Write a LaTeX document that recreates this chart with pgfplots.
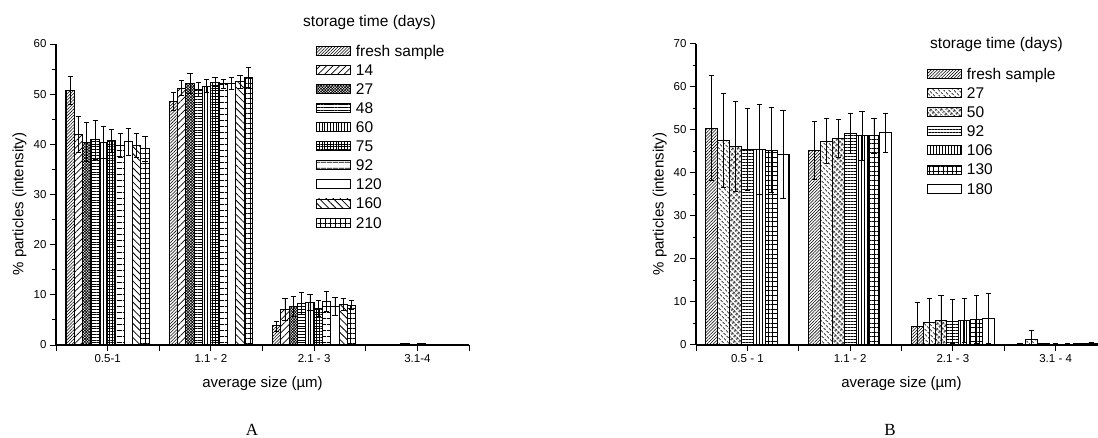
\documentclass[border=0pt]{standalone}
\usepackage{fontspec}
\setmainfont{Liberation Sans}
\newfontfamily\capfont{Liberation Serif}
\usepackage{pgfplots}
\usepackage{pgfplotstable}
\pgfplotsset{compat=1.18}
\usetikzlibrary{patterns.meta}

\pgfplotstableread{
x s1 e1 s2 e2 s3 e3 s4 e4 s5 e5 s6 e6 s7 e7 s8 e8 s9 e9 s10 e10
0 50.8 2.8 41.9 3.6 40.4 3.9 40.9 3.9 40.3 3.2 40.7 2.3 39.7 2.4 40.5 2.7 39.7 2.4 39.1 2.5
1 48.6 1.8 51.2 1.5 52.1 2.0 51.0 1.4 51.6 1.3 52.4 0.9 52.1 0.9 52.2 1.2 52.5 1.3 53.4 2.0
2 3.8 1.0 7.1 2.1 7.7 1.9 8.3 2.2 8.5 1.6 7.3 1.5 8.6 2.0 7.7 1.8 8.0 1.2 7.9 0.9
3 0.1 0.05 0.1 0.05 0.1 0.05 0.2 0.05 0.1 0.05 0.2 0.05 0.1 0.05 0.1 0.05 0.1 0.05 0.1 0.05
}\dataA

\pgfplotstableread{
x s1 e1 s2 e2 s3 e3 s4 e4 s5 e5 s6 e6 s7 e7
0 50.4 12.2 47.6 11.0 46.2 10.4 45.5 9.6 45.5 10.4 45.3 9.9 44.3 10.2
1 45.2 6.8 47.4 5.2 48.0 4.4 49.2 4.6 48.7 5.7 48.7 4.1 49.4 4.5
2 4.4 5.5 5.2 5.7 5.7 5.9 5.4 5.1 5.7 5.1 6.0 5.6 6.2 5.8
3 0.2 0.1 1.3 2.0 0.3 0.1 0.2 0.1 0.2 0.1 0.3 0.1 0.4 0.1
}\dataB

\pgfplotsset{
  myaxis/.style={
    scale only axis, width=411bp, height=301bp,
    axis lines*=left, axis line style={-, line width=1.1bp},
    tick align=outside, major tick length=6bp, minor tick length=3.5bp,
    every tick/.style={line width=1bp, black},
    ymin=0, xmin=-0.5, xmax=3.5,
    ybar=0pt,
    xtick={-0.5,0,0.5,1,1.5,2,2.5,3,3.5},
    minor y tick num=1,
    /pgf/number format/assume math mode=true,
    tick label style={font=\fontsize{11.5bp}{13bp}\selectfont},
    label style={font=\fontsize{15bp}{18bp}\selectfont},
    xlabel={average size (µm)},
    ylabel={\% particles (intensity)},
    xlabel style={at={(axis description cs:0.5,-0.1296)}, anchor=center},
    ylabel style={at={(axis description cs:-0.0884,0.468)}, anchor=center},
    legend cell align=left,
    legend image code/.code={\draw[##1, line width=0.9bp] (0bp,-4.5bp) rectangle (34bp,4.5bp);},
    legend style={draw=none, fill=none, anchor=north west, inner sep=0pt, outer sep=0pt,
      row sep=0pt, font=\fontsize{15.5bp}{18bp}\selectfont,
      nodes={inner sep=0pt, text height=15bp, text depth=4.1bp},
      /tikz/every odd column/.append style={column sep=5bp}},
  },
  eb/.style={draw=black, line width=1.1bp,
    error bars/y dir=both, error bars/y explicit,
    error bars/error bar style={line width=0.8bp, black},
    error bars/error mark options={rotate=90, mark size=2.6bp, line width=0.8bp, black}},
}

\begin{document}
\begin{tikzpicture}
% Panel A
\begin{axis}[myaxis, at={(56bp,93bp)}, anchor=south west, width=413bp,
  ymax=60, ytick={0,10,...,60}, bar width=0.0806,
  xticklabels={,0.5-1,,1.1 - 2,,2.1 - 3,,3.1-4,},
  legend style={at={(axis description cs:0.6295,1.0095)}}]
\addplot[eb, pattern={Lines[angle=45,distance=2.2bp,line width=0.55bp]}] table[x=x,y=s1,y error=e1]{\dataA};
\addplot[eb, pattern={Lines[angle=45,distance=4.6bp,line width=0.7bp]}] table[x=x,y=s2,y error=e2]{\dataA};
\addplot[eb, pattern={Hatch[angle=45,distance=2bp,line width=0.65bp]}] table[x=x,y=s3,y error=e3]{\dataA};
\addplot[eb, pattern={Lines[angle=0,distance=2.8bp,line width=0.7bp]}] table[x=x,y=s4,y error=e4]{\dataA};
\addplot[eb, pattern={Lines[angle=90,distance=2.8bp,line width=0.7bp]}] table[x=x,y=s5,y error=e5]{\dataA};
\addplot[eb, pattern={Hatch[angle=0,distance=2.8bp,line width=0.65bp]}] table[x=x,y=s6,y error=e6]{\dataA};
\addplot[eb, pattern={Lines[angle=0,distance=6bp,line width=0.8bp]}] table[x=x,y=s7,y error=e7]{\dataA};
\addplot[eb, fill=white] table[x=x,y=s8,y error=e8]{\dataA};
\addplot[eb, pattern={Lines[angle=-45,distance=5bp,line width=0.8bp]}] table[x=x,y=s9,y error=e9]{\dataA};
\addplot[eb, pattern={Hatch[angle=0,distance=5bp,line width=0.8bp]}] table[x=x,y=s10,y error=e10]{\dataA};
\legend{fresh sample,14,27,48,60,75,92,120,160,210}
\end{axis}
% Panel B
\begin{axis}[myaxis, at={(696bp,93bp)}, anchor=south west, width=411bp,
  ymax=70, ytick={0,10,...,70}, bar width=0.1157,
  xticklabels={,0.5 - 1,,1.1 - 2,,2.1 - 3,,3.1 - 4,},
  legend style={at={(axis description cs:0.562,0.932)}}]
\addplot[eb, pattern={Lines[angle=45,distance=2.2bp,line width=0.55bp]}] table[x=x,y=s1,y error=e1]{\dataB};
\addplot[eb, pattern={Lines[angle=-45,distance=3.6bp,line width=0.7bp]}] table[x=x,y=s2,y error=e2]{\dataB};
\addplot[eb, pattern={Hatch[angle=45,distance=3.6bp,line width=0.7bp]}] table[x=x,y=s3,y error=e3]{\dataB};
\addplot[eb, pattern={Lines[angle=0,distance=3bp,line width=0.7bp]}] table[x=x,y=s4,y error=e4]{\dataB};
\addplot[eb, pattern={Lines[angle=90,distance=3bp,line width=0.7bp]}] table[x=x,y=s5,y error=e5]{\dataB};
\addplot[eb, pattern={Hatch[angle=0,distance=4.6bp,line width=0.7bp]}] table[x=x,y=s6,y error=e6]{\dataB};
\addplot[eb, fill=white] table[x=x,y=s7,y error=e7]{\dataB};
\legend{fresh sample,27,50,92,106,130,180}
\end{axis}
\node[anchor=west, inner sep=0pt, font=\fontsize{15.5bp}{18bp}\selectfont] at (303bp,415.3bp) {storage time (days)};
\node[anchor=west, inner sep=0pt, font=\fontsize{15.5bp}{18bp}\selectfont] at (930bp,394bp) {storage time (days)};
\node[anchor=base, inner sep=0pt, font=\capfont\fontsize{17bp}{20bp}\selectfont] at (252bp,2.5bp) {A};
\node[anchor=base, inner sep=0pt, font=\capfont\fontsize{17bp}{20bp}\selectfont] at (890bp,2.5bp) {B};
\pgfresetboundingbox
\useasboundingbox (0,0) rectangle (1098bp,438bp);
\end{tikzpicture}
\end{document}
